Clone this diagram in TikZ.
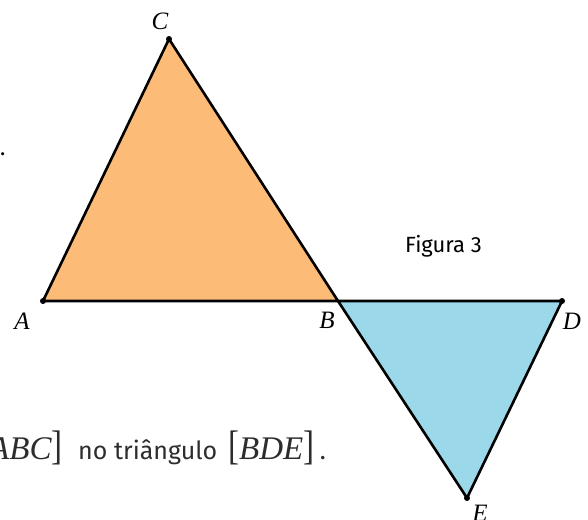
\documentclass[tikz,border=0pt]{standalone}
\usepackage{fontspec}
\setmainfont{Liberation Serif}
\newfontfamily\figfont{Fira Sans}
\definecolor{orangefill}{RGB}{253,187,120}
\definecolor{bluefill}{RGB}{155,216,234}
\definecolor{textgray}{RGB}{45,45,45}
\newcommand{\tallbr}[1]{\scalebox{1}[1.25]{#1}}
\tikzset{
    vlabel/.style={inner sep=0pt, font=\itshape\fontsize{25}{25}\selectfont},
    captext/.style={inner sep=0pt, font=\figfont\fontsize{22}{22}\selectfont},
    bigtext/.style={inner sep=0pt, text=textgray, font=\fontsize{33}{33}\selectfont}
}
\begin{document}
\begin{tikzpicture}[x=1pt, y=-1pt]
    \useasboundingbox (0,0) rectangle (588,519);
    \coordinate (A) at (43,301);
    \coordinate (B) at (338,301);
    \coordinate (C) at (169,39);
    \coordinate (D) at (562,301);
    \coordinate (E) at (467,498);
    \draw[line width=2.6pt, line join=round, fill=orangefill] (A) -- (B) -- (C) -- cycle;
    \draw[line width=2.6pt, line join=round, fill=bluefill] (B) -- (D) -- (E) -- cycle;
    \foreach \p in {A,C,D,E}
        \fill (\p) circle (3pt);
    \node[vlabel] (labelA) at (22,321) {A};
    \node[vlabel] (labelB) at (327,320) {B};
    \node[vlabel] (labelC) at (160,21) {C};
    \node[vlabel] (labelD) at (572,321) {D};
    \node[vlabel] (labelE) at (480,513) {E};
    \node[captext, anchor=base west] (figura) at (405,252) {Figura 3};
    \node[captext, anchor=base west] (dot) at (0,155) {.};
    \node[bigtext, anchor=base east] (abc) at (63,459) {\tallbr{[}\textit{ABC}\tallbr{]}};
    \node[inner sep=0pt, anchor=base west, text=textgray, font=\figfont\fontsize{25}{25}\selectfont] (texto) at (78,459) {no triângulo};
    \node[bigtext, anchor=base west] (bde) at (228,459) {\tallbr{[}\textit{BDE}\tallbr{]}\,{\figfont\fontsize{25}{25}\selectfont.}};
\end{tikzpicture}
\end{document}
